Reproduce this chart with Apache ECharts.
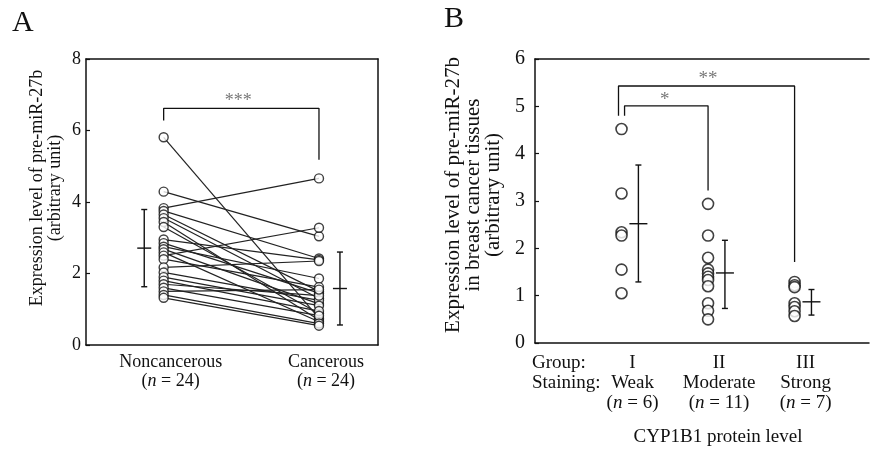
<!DOCTYPE html>
<html><head><meta charset="utf-8">
<script src="https://cdn.jsdelivr.net/npm/echarts@6/dist/echarts.min.js"></script>
<style>html,body{margin:0;padding:0;background:#fff}#c{width:872px;height:449px}</style>
</head><body><div id="c"></div>
<script>
// ---------- Panel A data ----------
const catA = ['Noncancerous', 'Cancerous'];
const nA = [24, 24];
const ticksA = [0, 2, 4, 6, 8];
const nonCancerous = [5.81, 4.29, 3.83, 3.75, 3.65, 3.55, 3.44, 3.30, 2.95, 2.85, 2.75, 2.68,
                      2.59, 2.50, 2.40, 2.17, 2.03, 1.90, 1.80, 1.70, 1.60, 1.50, 1.40, 1.32];
const cancerous    = [0.75, 3.04, 4.66, 2.42, 1.50, 1.30, 0.70, 0.88, 2.38, 1.45, 1.86, 1.15,
                      0.65, 3.28, 1.62, 2.35, 1.25, 1.10, 0.95, 1.38, 0.82, 1.55, 0.60, 0.54];
const meanA = [2.71, 1.58];
const sdLowA = [1.63, 0.56];
const sdHighA = [3.79, 2.60];
const bracketA = [6.28, 6.62, 5.18];   // left leg bottom, bar, right leg bottom
const starsA = '***';

// ---------- Panel B data ----------
const groupsB = ['I', 'II', 'III'];
const stainingB = ['Weak', 'Moderate', 'Strong'];
const nB = [6, 11, 7];
const ticksB = [0, 1, 2, 3, 4, 5, 6];
const groupI = [4.52, 3.16, 2.34, 2.27, 1.55, 1.05];
const groupII = [2.94, 2.27, 1.80, 1.55, 1.47, 1.40, 1.33, 1.20, 0.84, 0.68, 0.50];
const groupIII = [1.29, 1.22, 1.18, 0.84, 0.76, 0.67, 0.57];
const meanB = [2.52, 1.48, 0.87];
const sdLowB = [1.29, 0.73, 0.59];
const sdHighB = [3.76, 2.17, 1.13];
const bracketB2 = [4.80, 5.43, 1.71];  // I vs III (**)
const bracketB1 = [4.80, 5.01, 3.22];  // I vs II (*)

const FONT = 'Liberation Serif';
const chart = echarts.init(document.getElementById('c'));

function crossSeries(xi, yi, means, lows, highs, offs, halfW, capW) {
  return {
    type: 'custom', xAxisIndex: xi, yAxisIndex: yi, z: 5, silent: true,
    data: means.map((m, i) => [i + offs[i], m, lows[i], highs[i]]),
    renderItem: (params, api) => {
      const x = api.value(0);
      const c = api.coord([x, api.value(1)]);
      const lo = api.coord([x, api.value(2)]);
      const hi = api.coord([x, api.value(3)]);
      const st = { stroke: '#111', lineWidth: 1.4 };
      return { type: 'group', children: [
        { type: 'line', shape: { x1: lo[0], y1: lo[1], x2: hi[0], y2: hi[1] }, style: st },
        { type: 'line', shape: { x1: lo[0] - capW, y1: lo[1], x2: lo[0] + capW, y2: lo[1] }, style: st },
        { type: 'line', shape: { x1: hi[0] - capW, y1: hi[1], x2: hi[0] + capW, y2: hi[1] }, style: st },
        { type: 'line', shape: { x1: c[0] - halfW, y1: c[1], x2: c[0] + halfW, y2: c[1] }, style: st }
      ]};
    }
  };
}

function bracket(xi, yi, x0, x1, b) {
  return { type: 'line', xAxisIndex: xi, yAxisIndex: yi, symbol: 'none', silent: true, z: 2,
    lineStyle: { color: '#111', width: 1.3 },
    data: [[x0, b[0]], [x0, b[1]], [x1, b[1]], [x1, b[2]]] };
}
function starLabel(xi, yi, x, y, txt, size) {
  return { type: 'scatter', xAxisIndex: xi, yAxisIndex: yi, symbolSize: 0, silent: true,
    data: [[x, y]],
    label: { show: true, position: 'inside', formatter: txt, color: '#555',
      fontFamily: FONT, fontSize: size } };
}

const series = [];
// Panel A paired lines
nonCancerous.forEach((v, i) => {
  series.push({ type: 'line', xAxisIndex: 0, yAxisIndex: 0, showSymbol: false, silent: true, z: 2,
    lineStyle: { color: '#222', width: 1.2 }, data: [[0, v], [1, cancerous[i]]] });
});
series.push({ type: 'scatter', xAxisIndex: 0, yAxisIndex: 0, symbol: 'circle', symbolSize: 9, z: 3,
  itemStyle: { color: '#fff', borderColor: '#111', borderWidth: 1.4 },
  data: nonCancerous.map(v => [0, v]).concat(cancerous.map(v => [1, v])) });
series.push(crossSeries(0, 0, meanA, sdLowA, sdHighA, [-0.125, 0.135], 7, 3));
series.push(bracket(0, 0, 0, 1, bracketA));
series.push(starLabel(0, 0, 0.48, 6.82, starsA, 18));

// Panel B
[groupI, groupII, groupIII].forEach((g, gi) => {
  series.push({ type: 'scatter', xAxisIndex: 2, yAxisIndex: 2, symbol: 'circle', symbolSize: 11, z: 3,
    itemStyle: { color: '#fff', borderColor: '#111', borderWidth: 1.6 },
    data: g.map(v => [gi, v]) });
});
series.push(crossSeries(2, 2, meanB, sdLowB, sdHighB, [0.195, 0.195, 0.195], 9, 3));
series.push(bracket(2, 2, -0.035, 2, bracketB2));
series.push(bracket(2, 2, 0.035, 1, bracketB1));
series.push(starLabel(2, 2, 1.0, 5.57, '**', 19));
series.push(starLabel(2, 2, 0.5, 5.13, '*', 19));

const axisLineStyle = { onZero: false, lineStyle: { color: '#111', width: 1.5 } };

const option = {
  animation: false,
  backgroundColor: '#fff',
  grid: [
    { left: 86, right: 494, top: 59, bottom: 104 },
    { left: 535, right: 1, top: 59, bottom: 106 }
  ],
  xAxis: [
    { gridIndex: 0, type: 'value', min: -0.5, max: 1.38, interval: 0.5,
      axisLine: axisLineStyle, axisTick: { show: false }, splitLine: { show: false },
      showMaxLabel: false,
      axisLabel: { margin: 8, fontFamily: FONT, color: '#111', padding: [0, 0, 0, 14],
        formatter: v => {
          const i = Math.round(v);
          if (Math.abs(v - i) > 1e-6 || i < 0 || i >= catA.length) return '';
          return `{t|${catA[i]}}\n{t|(}{it|n}{t| = ${nA[i]})}`;
        },
        rich: { t: { fontFamily: FONT, fontSize: 18, color: '#111', lineHeight: 19 },
                it: { fontFamily: FONT, fontSize: 18, fontStyle: 'italic', color: '#111', lineHeight: 19 } } } },
    { gridIndex: 0, type: 'value', position: 'top', min: -0.5, max: 1.38,
      axisLine: axisLineStyle, axisTick: { show: false }, axisLabel: { show: false }, splitLine: { show: false } },
    { gridIndex: 1, type: 'value', min: -1, max: 2.86, interval: 1,
      axisLine: axisLineStyle, axisTick: { show: false }, splitLine: { show: false },
      showMaxLabel: false,
      axisLabel: { margin: 10, fontFamily: FONT, color: '#111', padding: [0, 0, 0, 22],
        formatter: v => {
          const i = Math.round(v);
          if (Math.abs(v - i) > 1e-6 || i < 0 || i >= groupsB.length) return '';
          return `{t|${groupsB[i]}}\n{t|${stainingB[i]}}\n{t|(}{it|n}{t| = ${nB[i]})}`;
        },
        rich: { t: { fontFamily: FONT, fontSize: 19, color: '#111', lineHeight: 20 },
                it: { fontFamily: FONT, fontSize: 19, fontStyle: 'italic', color: '#111', lineHeight: 20 } } } },
    { gridIndex: 1, type: 'value', position: 'top', min: -1, max: 2.86,
      axisLine: axisLineStyle, axisTick: { show: false }, axisLabel: { show: false }, splitLine: { show: false } }
  ],
  yAxis: [
    { gridIndex: 0, type: 'value', min: ticksA[0], max: ticksA[ticksA.length - 1], interval: ticksA[1] - ticksA[0],
      axisLine: { show: true, ...axisLineStyle }, splitLine: { show: false },
      axisTick: { show: true, inside: true, length: 4, lineStyle: { color: '#111', width: 1.2 } },
      axisLabel: { margin: 5, fontFamily: FONT, fontSize: 18, color: '#111' } },
    { gridIndex: 0, type: 'value', position: 'right', min: 0, max: 8,
      axisLine: { show: true, ...axisLineStyle }, axisTick: { show: false }, axisLabel: { show: false }, splitLine: { show: false } },
    { gridIndex: 1, type: 'value', min: ticksB[0], max: ticksB[ticksB.length - 1], interval: 1,
      axisLine: { show: true, ...axisLineStyle }, splitLine: { show: false },
      axisTick: { show: true, inside: true, length: 4, lineStyle: { color: '#111', width: 1.2 } },
      axisLabel: { margin: 10, fontFamily: FONT, fontSize: 20, color: '#111' } }
  ],
  graphic: [
    { type: 'text', left: 12, top: 8, style: { text: 'A', font: '30px "Liberation Serif"', fill: '#111' } },
    { type: 'text', left: 444, top: 4, style: { text: 'B', font: '30px "Liberation Serif"', fill: '#111' } },
    { type: 'text', x: 46, y: 188, rotation: Math.PI / 2,
      style: { text: 'Expression level of pre-miR-27b\n(arbitrary unit)', font: '18px "Liberation Serif"',
        fill: '#111', align: 'center', verticalAlign: 'middle', lineHeight: 18 } },
    { type: 'text', x: 473, y: 195, rotation: Math.PI / 2,
      style: { text: 'Expression level of pre-miR-27b\nin breast cancer tissues\n(arbitrary unit)',
        font: '21px "Liberation Serif"', fill: '#111', align: 'center', verticalAlign: 'middle', lineHeight: 20 } },
    { type: 'text', x: 532, y: 363,
      style: { text: 'Group:', font: '19px "Liberation Serif"', fill: '#111', verticalAlign: 'middle' } },
    { type: 'text', x: 532, y: 383,
      style: { text: 'Staining:', font: '19px "Liberation Serif"', fill: '#111', verticalAlign: 'middle' } },
    { type: 'text', x: 718, y: 437,
      style: { text: 'CYP1B1 protein level', font: '19px "Liberation Serif"', fill: '#111', align: 'center', verticalAlign: 'middle' } }
  ],
  series
};
chart.setOption(option);
</script></body></html>
